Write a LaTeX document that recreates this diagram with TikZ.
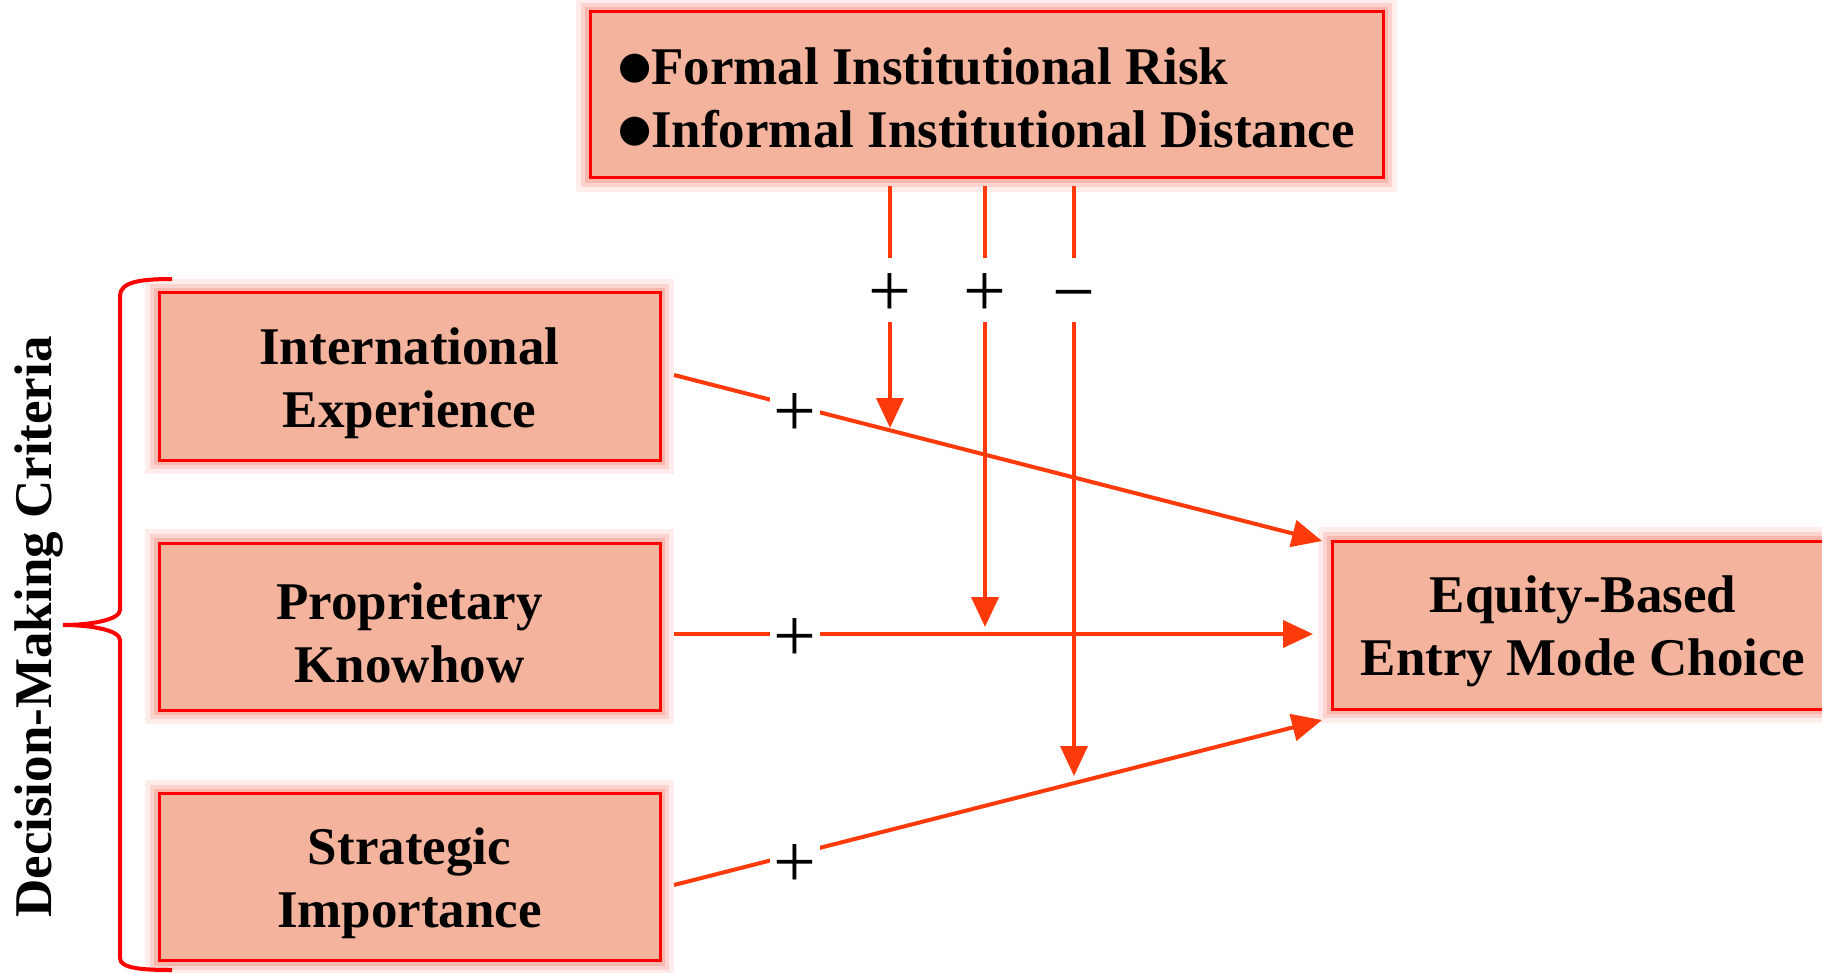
\documentclass[tikz,border=0pt]{standalone}
\usepackage{fontspec}
\setmainfont{Liberation Serif}
\newfontfamily\symfont{DejaVu Sans}
\usetikzlibrary{arrows.meta}
\definecolor{boxfill}{HTML}{F4B39C}
\definecolor{boxline}{HTML}{FF0000}
\definecolor{arrcol}{HTML}{FF3A0A}
\newcommand{\dnstrut}{\rule{0pt}{50pt}}
\newcommand{\blt}{\raisebox{6pt}{\symfont\fontsize{38}{63}\selectfont ●}}
\newcommand{\plussign}{\raisebox{-27pt}[0pt][0pt]{+}}
\newcommand{\minussign}{\raisebox{-28pt}[0pt][0pt]{−}}
\tikzset{
  glowbox/.style={draw=boxline, line width=3pt, fill=boxfill, rectangle,
    minimum width=501pt, minimum height=167pt, inner sep=0pt, align=center,
    font=\bfseries\fontsize{53}{63}\selectfont,
    preaction={draw=boxfill!60!red, draw opacity=0.12, line width=28pt},
    preaction={draw=boxfill!75!red, draw opacity=0.25, line width=18pt},
    preaction={draw=boxfill!85!red, draw opacity=0.45, line width=10pt}},
  conn/.style={draw=arrcol, line width=4pt, -{Triangle[length=30pt,width=27pt]}},
  sign/.style={fill=white, inner sep=0pt, minimum width=50pt, minimum height=60pt,
    font=\fontsize{76}{76}\selectfont},
  bracecol/.style={draw=boxline, line width=4pt}
}
\begin{document}
\begin{tikzpicture}[x=1pt,y=-1pt]
\useasboundingbox (0,0) rectangle (1822,973);
% boxes
\node[glowbox, minimum width=793pt, minimum height=166pt, align=left] (top) at (986.5,95)
  {\rule{0pt}{43pt}\blt Formal Institutional Risk\\\blt Informal Institutional Distance};
\node[glowbox] (ie) at (409.5,376.5) {\dnstrut International\\Experience};
\node[glowbox] (pk) at (409.5,626.5) {\dnstrut Proprietary\\Knowhow};
\node[glowbox] (si) at (409.5,877) {\dnstrut Strategic\\Importance};
\node[glowbox, minimum width=502pt, minimum height=168pt] (eb) at (1583,625) {\dnstrut Equity-Based\\Entry Mode Choice};
% side label and brace
\node[rotate=90, font=\bfseries\fontsize{53}{63}\selectfont] (dm) at (39,627) {Decision-Making Criteria};
\draw[bracecol] (172,279) .. controls (140,279) and (120,282) .. (120,296)
  -- (120,610) .. controls (120,620) and (90,625) .. (63,625)
  .. controls (90,625) and (120,630) .. (120,640)
  -- (120,958) .. controls (120,968) and (140,970) .. (172,970);
% coordinates
\coordinate (ieS) at (674,375);
\coordinate (ieE) at (1322,541);
\coordinate (pkS) at (674,634);
\coordinate (pkE) at (1313,634);
\coordinate (siS) at (674,885);
\coordinate (siE) at (1322,720);
\coordinate (m1s) at (890,186);
\coordinate (m2s) at (985,186);
\coordinate (m3s) at (1074,186);
\coordinate (m1e) at (890,428);
\coordinate (m2e) at (985,627);
\coordinate (m3e) at (1074,776);
% main arrows
\draw[conn] (ieS) -- (ieE);
\draw[conn] (pkS) -- (pkE);
\draw[conn] (siS) -- (siE);
% moderating arrows
\draw[conn] (m1s) -- (m1e);
\draw[conn] (m2s) -- (m2e);
\draw[conn] (m3s) -- (m3e);
% signs
\node[sign] (p1) at (795,409) {\plussign};
\node[sign] (p2) at (795,634) {\plussign};
\node[sign] (p3) at (795,860) {\plussign};
\node[sign, minimum height=64pt] (q1) at (890,290) {\plussign};
\node[sign, minimum height=64pt] (q2) at (985,290) {\plussign};
\node[sign, minimum height=64pt] (q3) at (1074,290) {\minussign};
\end{tikzpicture}
\end{document}
